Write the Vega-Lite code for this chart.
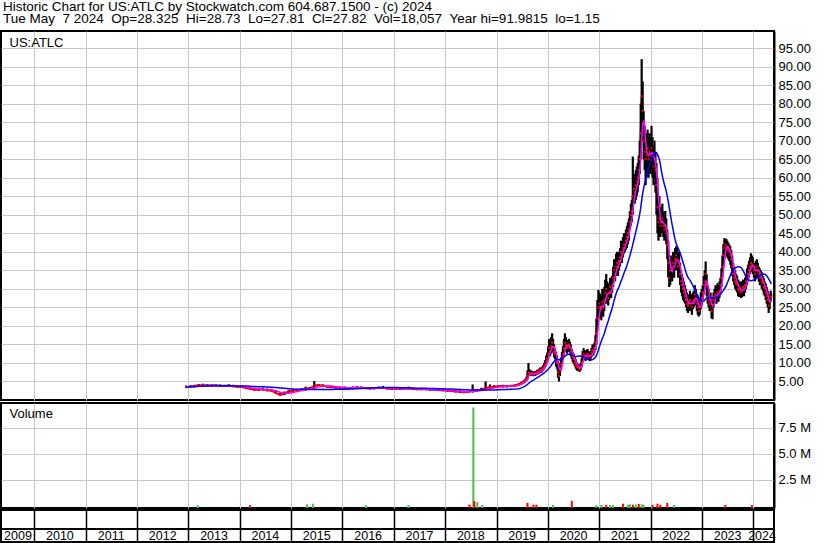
{
  "$schema": "https://vega.github.io/schema/vega-lite/v6.json",
  "background": "white",
  "padding": {"left": 0, "top": 0, "right": 0, "bottom": 0},
  "title": {
    "text": ["Historic Chart for US:ATLC by Stockwatch.com 604.687.1500 - (c) 2024", "Tue May \u00a07 2024 \u00a0Op=28.325 \u00a0Hi=28.73 \u00a0Lo=27.81 \u00a0Cl=27.82 \u00a0Vol=18,057 \u00a0Year hi=91.9815 \u00a0lo=1.15"],
    "anchor": "start", "frame": "bounds", "fontSize": 13.5, "font": "Liberation Sans", "fontWeight": "normal", "color": "black", "lineHeight": 12, "offset": -6.5, "baseline": "alphabetic", "dx": 3
  },
  "spacing": 1,
  "datasets": {
    "px": [
      {"t":"2012-12-15","h":3.9,"l":3.2,"c":3.5},{"t":"2013-01-15","h":4.0,"l":3.3,"c":3.6},{"t":"2013-02-15","h":4.1,"l":3.4,"c":3.8},{"t":"2013-03-15","h":4.3,"l":3.6,"c":4.0},{"t":"2013-04-15","h":4.4,"l":3.7,"c":4.0},{"t":"2013-05-15","h":4.3,"l":3.6,"c":3.9},{"t":"2013-06-15","h":4.2,"l":3.6,"c":3.9},{"t":"2013-07-15","h":4.3,"l":3.7,"c":4.0},{"t":"2013-08-15","h":4.2,"l":3.6,"c":3.8},{"t":"2013-09-15","h":4.1,"l":3.5,"c":3.8},{"t":"2013-10-15","h":4.2,"l":3.6,"c":3.9},{"t":"2013-11-15","h":4.1,"l":3.5,"c":3.7},{"t":"2013-12-15","h":4.0,"l":3.4,"c":3.6},
      {"t":"2014-01-15","h":3.9,"l":3.3,"c":3.5},{"t":"2014-02-15","h":3.7,"l":3.0,"c":3.2},{"t":"2014-03-15","h":3.5,"l":2.8,"c":3.0},{"t":"2014-04-15","h":3.3,"l":2.6,"c":2.8},{"t":"2014-05-15","h":3.2,"l":2.5,"c":2.8},{"t":"2014-06-15","h":3.3,"l":2.6,"c":2.9},{"t":"2014-07-15","h":3.1,"l":2.4,"c":2.6},{"t":"2014-08-15","h":3.0,"l":2.3,"c":2.5},{"t":"2014-09-15","h":2.6,"l":1.6,"c":1.9},{"t":"2014-10-15","h":2.0,"l":1.15,"c":1.4},{"t":"2014-11-15","h":2.3,"l":1.3,"c":1.8},{"t":"2014-12-15","h":2.7,"l":1.8,"c":2.3},
      {"t":"2015-01-15","h":2.9,"l":2.2,"c":2.5},{"t":"2015-02-15","h":3.0,"l":2.3,"c":2.6},{"t":"2015-03-15","h":3.2,"l":2.4,"c":2.8},{"t":"2015-04-15","h":3.6,"l":2.6,"c":3.2},{"t":"2015-05-15","h":3.5,"l":2.8,"c":3.1},{"t":"2015-06-15","h":5.1,"l":3.0,"c":3.9},{"t":"2015-07-15","h":4.3,"l":3.6,"c":4.0},{"t":"2015-08-15","h":4.2,"l":3.6,"c":3.9},{"t":"2015-09-15","h":4.0,"l":3.4,"c":3.6},{"t":"2015-10-15","h":3.8,"l":3.2,"c":3.5},{"t":"2015-11-15","h":3.7,"l":3.1,"c":3.4},{"t":"2015-12-15","h":3.6,"l":3.0,"c":3.3},
      {"t":"2016-01-15","h":3.6,"l":3.0,"c":3.3},{"t":"2016-02-15","h":3.5,"l":2.9,"c":3.2},{"t":"2016-03-15","h":3.6,"l":3.0,"c":3.3},{"t":"2016-04-15","h":3.7,"l":3.1,"c":3.4},{"t":"2016-05-15","h":3.6,"l":3.0,"c":3.3},{"t":"2016-06-15","h":3.5,"l":3.0,"c":3.2},{"t":"2016-07-15","h":3.4,"l":2.9,"c":3.1},{"t":"2016-08-15","h":3.5,"l":2.9,"c":3.2},{"t":"2016-09-15","h":3.6,"l":3.0,"c":3.3},{"t":"2016-10-15","h":3.8,"l":3.0,"c":3.3},{"t":"2016-11-15","h":3.5,"l":2.9,"c":3.1},{"t":"2016-12-15","h":3.4,"l":2.8,"c":3.0},
      {"t":"2017-01-15","h":3.4,"l":2.8,"c":3.1},{"t":"2017-02-15","h":3.3,"l":2.8,"c":3.0},{"t":"2017-03-15","h":3.4,"l":2.9,"c":3.1},{"t":"2017-04-15","h":3.6,"l":2.9,"c":3.2},{"t":"2017-05-15","h":3.3,"l":2.8,"c":3.0},{"t":"2017-06-15","h":3.2,"l":2.7,"c":2.9},{"t":"2017-07-15","h":3.3,"l":2.7,"c":2.9},{"t":"2017-08-15","h":3.2,"l":2.7,"c":2.9},{"t":"2017-09-15","h":3.2,"l":2.6,"c":2.8},{"t":"2017-10-15","h":3.1,"l":2.6,"c":2.8},{"t":"2017-11-15","h":3.1,"l":2.5,"c":2.7},{"t":"2017-12-15","h":3.0,"l":2.4,"c":2.6},
      {"t":"2018-01-15","h":2.9,"l":2.3,"c":2.5},{"t":"2018-02-15","h":2.8,"l":2.2,"c":2.4},{"t":"2018-03-15","h":2.7,"l":2.1,"c":2.3},{"t":"2018-04-15","h":2.6,"l":2.0,"c":2.2},{"t":"2018-05-15","h":2.5,"l":1.9,"c":2.1},{"t":"2018-06-15","h":2.5,"l":1.9,"c":2.2},{"t":"2018-07-15","h":4.2,"l":2.0,"c":2.6},{"t":"2018-08-15","h":3.0,"l":2.3,"c":2.6},{"t":"2018-09-15","h":3.3,"l":2.5,"c":2.8},{"t":"2018-10-15","h":5.0,"l":2.8,"c":3.2},{"t":"2018-11-15","h":4.2,"l":3.0,"c":3.5},{"t":"2018-12-15","h":4.0,"l":3.2,"c":3.6},
      {"t":"2019-01-15","h":4.0,"l":3.3,"c":3.7},{"t":"2019-02-15","h":4.1,"l":3.4,"c":3.8},{"t":"2019-03-15","h":4.0,"l":3.4,"c":3.7},{"t":"2019-04-15","h":4.1,"l":3.5,"c":3.8},{"t":"2019-05-15","h":4.3,"l":3.6,"c":4.0},
      {"t":"2019-06-07","h":4.5,"l":3.9,"c":4.2},{"t":"2019-06-14","h":4.6,"l":4.0,"c":4.3},{"t":"2019-06-21","h":4.7,"l":4.1,"c":4.4},{"t":"2019-06-28","h":4.9,"l":4.2,"c":4.5},{"t":"2019-07-05","h":5.0,"l":4.4,"c":4.7},{"t":"2019-07-12","h":5.2,"l":4.5,"c":4.8},{"t":"2019-07-19","h":5.4,"l":4.7,"c":5.0},{"t":"2019-07-26","h":5.8,"l":4.9,"c":5.3},{"t":"2019-08-02","h":6.3,"l":5.2,"c":5.6},{"t":"2019-08-09","h":8.0,"l":5.5,"c":6.5},{"t":"2019-08-16","h":10.0,"l":6.5,"c":7.5},{"t":"2019-08-23","h":8.3,"l":6.6,"c":7.2},{"t":"2019-08-30","h":7.8,"l":6.5,"c":7.0},{"t":"2019-09-06","h":8.0,"l":6.8,"c":7.3},{"t":"2019-09-13","h":7.7,"l":6.6,"c":7.1},{"t":"2019-09-20","h":7.5,"l":6.4,"c":6.9},{"t":"2019-09-27","h":7.8,"l":6.7,"c":7.2},{"t":"2019-10-04","h":7.6,"l":6.5,"c":7.0},{"t":"2019-10-11","h":7.9,"l":6.8,"c":7.3},{"t":"2019-10-18","h":8.2,"l":7.0,"c":7.6},{"t":"2019-10-25","h":8.0,"l":6.9,"c":7.4},{"t":"2019-11-01","h":8.5,"l":7.2,"c":7.8},{"t":"2019-11-08","h":8.8,"l":7.5,"c":8.1},{"t":"2019-11-15","h":8.6,"l":7.3,"c":7.9},{"t":"2019-11-22","h":9.0,"l":7.7,"c":8.3},{"t":"2019-11-29","h":9.4,"l":8.0,"c":8.6},{"t":"2019-12-06","h":10.0,"l":8.4,"c":9.0},{"t":"2019-12-13","h":10.8,"l":8.9,"c":9.6},{"t":"2019-12-20","h":12.0,"l":9.5,"c":10.4},{"t":"2019-12-27","h":12.8,"l":10.2,"c":11.2},
      {"t":"2020-01-03","h":14.5,"l":11.0,"c":12.5},{"t":"2020-01-10","h":16.5,"l":12.2,"c":14.0},{"t":"2020-01-17","h":15.5,"l":11.8,"c":13.2},{"t":"2020-01-24","h":17.0,"l":12.5,"c":14.5},{"t":"2020-01-31","h":18.0,"l":13.5,"c":15.5},{"t":"2020-02-07","h":16.5,"l":12.8,"c":14.2},{"t":"2020-02-14","h":15.0,"l":11.5,"c":13.0},{"t":"2020-02-21","h":14.0,"l":11.0,"c":12.5},{"t":"2020-02-28","h":13.0,"l":9.0,"c":10.5},{"t":"2020-03-06","h":12.0,"l":8.5,"c":10.0},{"t":"2020-03-13","h":10.5,"l":6.0,"c":7.5},{"t":"2020-03-20","h":8.5,"l":5.0,"c":6.5},{"t":"2020-03-27","h":10.0,"l":6.5,"c":8.5},{"t":"2020-04-03","h":11.5,"l":8.0,"c":9.5},{"t":"2020-04-10","h":13.0,"l":9.5,"c":11.5},{"t":"2020-04-17","h":14.5,"l":11.0,"c":12.5},{"t":"2020-04-24","h":16.5,"l":12.0,"c":14.0},{"t":"2020-05-01","h":18.0,"l":13.5,"c":15.5},{"t":"2020-05-08","h":17.0,"l":13.0,"c":14.8},{"t":"2020-05-15","h":16.0,"l":12.5,"c":14.0},{"t":"2020-05-22","h":16.2,"l":13.0,"c":14.6},{"t":"2020-05-29","h":16.5,"l":13.5,"c":15.0},{"t":"2020-06-05","h":15.8,"l":12.8,"c":14.2},{"t":"2020-06-12","h":15.0,"l":11.8,"c":13.0},{"t":"2020-06-19","h":13.8,"l":11.0,"c":12.2},{"t":"2020-06-26","h":13.0,"l":10.2,"c":11.5},{"t":"2020-07-03","h":12.5,"l":9.8,"c":11.0},{"t":"2020-07-10","h":11.8,"l":9.2,"c":10.2},{"t":"2020-07-17","h":11.0,"l":8.5,"c":9.5},{"t":"2020-07-24","h":10.2,"l":8.0,"c":9.0},{"t":"2020-07-31","h":9.8,"l":7.8,"c":8.8},{"t":"2020-08-07","h":9.6,"l":7.9,"c":8.6},{"t":"2020-08-14","h":9.3,"l":7.6,"c":8.2},{"t":"2020-08-21","h":10.0,"l":8.0,"c":9.0},{"t":"2020-08-28","h":11.2,"l":8.8,"c":10.0},{"t":"2020-09-04","h":13.2,"l":10.5,"c":11.8},{"t":"2020-09-11","h":14.0,"l":11.2,"c":12.5},{"t":"2020-09-18","h":13.5,"l":10.8,"c":12.0},{"t":"2020-09-25","h":13.0,"l":10.5,"c":11.6},{"t":"2020-10-02","h":13.5,"l":11.0,"c":12.0},{"t":"2020-10-09","h":13.8,"l":11.2,"c":12.4},{"t":"2020-10-16","h":13.2,"l":10.8,"c":11.8},{"t":"2020-10-23","h":12.8,"l":10.5,"c":11.5},{"t":"2020-10-30","h":13.2,"l":10.8,"c":12.0},{"t":"2020-11-06","h":14.0,"l":11.5,"c":12.8},{"t":"2020-11-13","h":15.0,"l":12.2,"c":13.5},{"t":"2020-11-20","h":14.5,"l":12.0,"c":13.2},{"t":"2020-11-27","h":15.5,"l":12.8,"c":14.0},{"t":"2020-12-04","h":17.5,"l":13.5,"c":15.5},{"t":"2020-12-11","h":22.0,"l":15.0,"c":18.0},{"t":"2020-12-18","h":27.0,"l":19.0,"c":22.0},{"t":"2020-12-25","h":29.7,"l":22.0,"c":25.0},
      {"t":"2021-01-01","h":29.0,"l":23.0,"c":26.0},{"t":"2021-01-08","h":28.5,"l":22.0,"c":25.0},{"t":"2021-01-15","h":28.0,"l":21.5,"c":24.5},{"t":"2021-01-22","h":30.0,"l":23.0,"c":26.5},{"t":"2021-01-29","h":28.5,"l":22.5,"c":25.0},{"t":"2021-02-05","h":30.5,"l":24.0,"c":27.0},{"t":"2021-02-12","h":32.5,"l":26.0,"c":29.0},{"t":"2021-02-19","h":34.0,"l":27.0,"c":30.0},{"t":"2021-02-26","h":32.0,"l":26.0,"c":28.5},{"t":"2021-03-05","h":30.5,"l":25.5,"c":27.5},{"t":"2021-03-12","h":31.5,"l":27.0,"c":29.0},{"t":"2021-03-19","h":33.0,"l":28.0,"c":30.5},{"t":"2021-03-26","h":32.0,"l":27.5,"c":29.5},{"t":"2021-04-02","h":33.5,"l":29.0,"c":31.0},{"t":"2021-04-09","h":36.0,"l":30.5,"c":33.0},{"t":"2021-04-16","h":38.0,"l":32.5,"c":35.0},{"t":"2021-04-23","h":37.0,"l":32.0,"c":34.0},{"t":"2021-04-30","h":39.5,"l":33.5,"c":36.0},{"t":"2021-05-07","h":40.0,"l":34.5,"c":37.0},{"t":"2021-05-14","h":39.0,"l":33.5,"c":36.0},{"t":"2021-05-21","h":40.0,"l":35.0,"c":37.5},{"t":"2021-05-28","h":41.0,"l":36.0,"c":38.5},{"t":"2021-06-04","h":43.0,"l":37.5,"c":40.0},{"t":"2021-06-11","h":42.5,"l":37.0,"c":39.5},{"t":"2021-06-18","h":44.0,"l":38.5,"c":41.0},{"t":"2021-06-25","h":45.0,"l":39.5,"c":42.0},{"t":"2021-07-02","h":45.0,"l":40.0,"c":42.0},{"t":"2021-07-09","h":46.0,"l":40.5,"c":43.0},{"t":"2021-07-16","h":47.0,"l":41.0,"c":44.0},{"t":"2021-07-23","h":48.0,"l":42.0,"c":45.0},{"t":"2021-07-30","h":49.0,"l":43.0,"c":46.0},{"t":"2021-08-06","h":51.0,"l":46.0,"c":48.0},{"t":"2021-08-13","h":53.0,"l":47.0,"c":50.0},{"t":"2021-08-20","h":54.0,"l":48.0,"c":51.0},{"t":"2021-08-27","h":65.7,"l":50.0,"c":55.0},{"t":"2021-09-03","h":61.0,"l":53.0,"c":57.0},{"t":"2021-09-10","h":60.0,"l":53.0,"c":56.0},{"t":"2021-09-17","h":62.0,"l":54.0,"c":58.0},{"t":"2021-09-24","h":63.0,"l":55.0,"c":59.0},{"t":"2021-10-01","h":64.0,"l":56.0,"c":60.0},{"t":"2021-10-08","h":66.0,"l":58.0,"c":62.0},{"t":"2021-10-15","h":70.0,"l":61.0,"c":65.0},{"t":"2021-10-22","h":80.0,"l":65.0,"c":72.0},{"t":"2021-10-29","h":92.0,"l":74.0,"c":82.0},{"t":"2021-11-05","h":86.0,"l":70.0,"c":78.0},{"t":"2021-11-12","h":78.0,"l":65.0,"c":70.0},{"t":"2021-11-19","h":74.0,"l":62.0,"c":67.0},{"t":"2021-11-26","h":71.0,"l":58.0,"c":65.0},{"t":"2021-12-03","h":72.0,"l":60.0,"c":66.0},{"t":"2021-12-10","h":73.0,"l":62.0,"c":68.0},{"t":"2021-12-17","h":71.0,"l":60.0,"c":65.0},{"t":"2021-12-24","h":72.0,"l":62.0,"c":67.0},{"t":"2021-12-31","h":71.0,"l":61.0,"c":66.0},
      {"t":"2022-01-07","h":74.0,"l":62.0,"c":68.0},{"t":"2022-01-14","h":71.0,"l":60.0,"c":66.0},{"t":"2022-01-21","h":68.0,"l":58.0,"c":63.0},{"t":"2022-01-28","h":70.0,"l":60.0,"c":65.0},{"t":"2022-02-04","h":67.0,"l":56.0,"c":62.0},{"t":"2022-02-11","h":64.0,"l":50.0,"c":58.0},{"t":"2022-02-18","h":60.0,"l":45.0,"c":52.0},{"t":"2022-02-25","h":54.0,"l":43.0,"c":48.0},{"t":"2022-03-04","h":55.0,"l":44.0,"c":49.0},{"t":"2022-03-11","h":52.0,"l":44.0,"c":47.0},{"t":"2022-03-18","h":52.0,"l":45.0,"c":48.0},{"t":"2022-03-25","h":53.0,"l":46.0,"c":49.0},{"t":"2022-04-01","h":51.0,"l":44.0,"c":47.0},{"t":"2022-04-08","h":50.0,"l":43.0,"c":46.0},{"t":"2022-04-15","h":51.0,"l":44.0,"c":47.0},{"t":"2022-04-22","h":49.0,"l":42.0,"c":45.0},{"t":"2022-04-29","h":46.0,"l":38.0,"c":42.0},{"t":"2022-05-06","h":43.0,"l":33.0,"c":37.0},{"t":"2022-05-13","h":38.0,"l":30.5,"c":33.0},{"t":"2022-05-20","h":38.0,"l":31.0,"c":35.0},{"t":"2022-05-27","h":39.0,"l":33.0,"c":36.0},{"t":"2022-06-03","h":38.0,"l":32.0,"c":35.0},{"t":"2022-06-10","h":40.0,"l":34.0,"c":37.0},{"t":"2022-06-17","h":39.0,"l":33.0,"c":36.0},{"t":"2022-06-24","h":41.0,"l":35.0,"c":38.0},{"t":"2022-07-01","h":41.5,"l":36.0,"c":39.0},{"t":"2022-07-08","h":41.0,"l":35.0,"c":38.0},{"t":"2022-07-15","h":39.0,"l":33.0,"c":36.0},{"t":"2022-07-22","h":40.0,"l":34.0,"c":37.0},{"t":"2022-07-29","h":37.0,"l":31.0,"c":34.0},{"t":"2022-08-05","h":35.0,"l":29.0,"c":32.0},{"t":"2022-08-12","h":34.0,"l":28.0,"c":31.0},{"t":"2022-08-19","h":33.0,"l":27.0,"c":30.0},{"t":"2022-08-26","h":32.0,"l":26.5,"c":29.0},{"t":"2022-09-02","h":31.0,"l":26.0,"c":28.0},{"t":"2022-09-09","h":30.0,"l":25.0,"c":27.0},{"t":"2022-09-16","h":29.0,"l":24.0,"c":26.0},{"t":"2022-09-23","h":28.0,"l":23.5,"c":25.5},{"t":"2022-09-30","h":28.5,"l":24.0,"c":26.0},{"t":"2022-10-07","h":29.5,"l":25.0,"c":27.0},{"t":"2022-10-14","h":28.5,"l":24.0,"c":26.0},{"t":"2022-10-21","h":27.5,"l":23.0,"c":25.0},{"t":"2022-10-28","h":29.0,"l":24.5,"c":26.5},{"t":"2022-11-04","h":29.5,"l":25.0,"c":27.0},{"t":"2022-11-11","h":31.0,"l":26.0,"c":28.5},{"t":"2022-11-18","h":30.0,"l":25.5,"c":27.5},{"t":"2022-11-25","h":28.5,"l":24.0,"c":26.0},{"t":"2022-12-02","h":27.5,"l":23.0,"c":25.0},{"t":"2022-12-09","h":26.5,"l":22.5,"c":24.0},{"t":"2022-12-16","h":27.0,"l":23.0,"c":25.0},{"t":"2022-12-23","h":29.0,"l":24.5,"c":26.5},{"t":"2022-12-30","h":30.0,"l":25.5,"c":27.5},
      {"t":"2023-01-06","h":31.0,"l":27.0,"c":29.0},{"t":"2023-01-13","h":33.5,"l":28.5,"c":31.0},{"t":"2023-01-20","h":35.0,"l":30.0,"c":32.0},{"t":"2023-01-27","h":37.4,"l":31.0,"c":34.0},{"t":"2023-02-03","h":34.0,"l":28.0,"c":31.0},{"t":"2023-02-10","h":31.0,"l":26.0,"c":28.0},{"t":"2023-02-17","h":30.0,"l":25.0,"c":27.0},{"t":"2023-02-24","h":28.5,"l":24.0,"c":26.0},{"t":"2023-03-03","h":29.0,"l":25.0,"c":27.0},{"t":"2023-03-10","h":27.0,"l":22.0,"c":24.0},{"t":"2023-03-17","h":27.5,"l":21.8,"c":25.0},{"t":"2023-03-24","h":29.0,"l":25.0,"c":27.0},{"t":"2023-03-31","h":30.0,"l":26.0,"c":28.0},{"t":"2023-04-07","h":31.0,"l":26.5,"c":28.5},{"t":"2023-04-14","h":30.5,"l":26.0,"c":28.0},{"t":"2023-04-21","h":31.5,"l":27.0,"c":29.0},{"t":"2023-04-28","h":31.0,"l":26.5,"c":28.5},{"t":"2023-05-05","h":32.0,"l":27.5,"c":29.5},{"t":"2023-05-12","h":33.0,"l":29.0,"c":31.0},{"t":"2023-05-19","h":35.5,"l":30.5,"c":33.0},{"t":"2023-05-26","h":39.0,"l":33.0,"c":36.0},{"t":"2023-06-02","h":42.0,"l":36.0,"c":39.0},{"t":"2023-06-09","h":43.7,"l":38.0,"c":41.0},{"t":"2023-06-16","h":43.5,"l":39.5,"c":42.0},{"t":"2023-06-23","h":43.5,"l":39.0,"c":41.5},{"t":"2023-06-30","h":43.0,"l":38.5,"c":41.0},{"t":"2023-07-07","h":42.5,"l":38.0,"c":40.5},{"t":"2023-07-14","h":42.0,"l":37.5,"c":40.0},{"t":"2023-07-21","h":41.5,"l":36.5,"c":39.0},{"t":"2023-07-28","h":40.5,"l":35.5,"c":38.0},{"t":"2023-08-04","h":39.0,"l":33.5,"c":36.0},{"t":"2023-08-11","h":37.0,"l":32.0,"c":34.0},{"t":"2023-08-18","h":36.0,"l":31.0,"c":33.0},{"t":"2023-08-25","h":35.0,"l":30.0,"c":32.0},{"t":"2023-09-01","h":34.0,"l":29.5,"c":31.5},{"t":"2023-09-08","h":33.5,"l":29.0,"c":31.0},{"t":"2023-09-15","h":32.5,"l":28.0,"c":30.0},{"t":"2023-09-22","h":32.0,"l":27.8,"c":29.5},{"t":"2023-09-29","h":32.0,"l":28.0,"c":30.0},{"t":"2023-10-06","h":31.5,"l":27.5,"c":29.0},{"t":"2023-10-13","h":32.0,"l":27.8,"c":29.5},{"t":"2023-10-20","h":32.5,"l":28.5,"c":30.5},{"t":"2023-10-27","h":32.0,"l":28.0,"c":30.0},{"t":"2023-11-03","h":33.0,"l":29.0,"c":31.0},{"t":"2023-11-10","h":34.0,"l":30.0,"c":32.0},{"t":"2023-11-17","h":35.5,"l":31.0,"c":33.0},{"t":"2023-11-24","h":36.5,"l":32.0,"c":34.0},{"t":"2023-12-01","h":37.5,"l":33.0,"c":35.0},{"t":"2023-12-08","h":38.5,"l":34.0,"c":36.0},{"t":"2023-12-15","h":39.6,"l":35.0,"c":37.0},{"t":"2023-12-22","h":39.0,"l":34.5,"c":36.5},{"t":"2023-12-29","h":38.5,"l":34.0,"c":36.0},
      {"t":"2024-01-05","h":37.0,"l":33.0,"c":35.0},{"t":"2024-01-12","h":36.5,"l":32.0,"c":34.0},{"t":"2024-01-19","h":37.5,"l":33.0,"c":35.0},{"t":"2024-01-26","h":38.0,"l":34.0,"c":36.0},{"t":"2024-02-02","h":37.0,"l":33.0,"c":35.0},{"t":"2024-02-09","h":36.0,"l":32.0,"c":34.0},{"t":"2024-02-16","h":35.5,"l":31.0,"c":33.0},{"t":"2024-02-23","h":35.0,"l":31.0,"c":33.0},{"t":"2024-03-01","h":34.5,"l":30.0,"c":32.0},{"t":"2024-03-08","h":33.5,"l":29.5,"c":31.5},{"t":"2024-03-15","h":33.0,"l":28.5,"c":30.5},{"t":"2024-03-22","h":32.0,"l":28.0,"c":30.0},{"t":"2024-03-29","h":31.5,"l":27.0,"c":29.0},{"t":"2024-04-05","h":30.5,"l":26.0,"c":28.0},{"t":"2024-04-12","h":29.5,"l":25.0,"c":27.0},{"t":"2024-04-19","h":28.0,"l":23.5,"c":25.5},{"t":"2024-04-26","h":28.5,"l":24.5,"c":26.5},{"t":"2024-05-03","h":29.5,"l":26.5,"c":28.0},{"t":"2024-05-07","h":28.73,"l":27.81,"c":27.82}
    ],
    "vol": [
      {"t":"2013-03-08","v":60000,"dir":"up"},{"t":"2014-03-14","v":60000,"dir":"down"},{"t":"2015-04-24","v":150000,"dir":"up"},{"t":"2015-06-05","v":200000,"dir":"up"},{"t":"2016-06-17","v":60000,"dir":"up"},{"t":"2017-04-14","v":60000,"dir":"up"},
      {"t":"2018-06-22","v":120000,"dir":"down"},{"t":"2018-07-20","v":9450000,"dir":"up"},{"t":"2018-07-27","v":450000,"dir":"down"},{"t":"2018-08-17","v":350000,"dir":"up"},{"t":"2018-09-21","v":80000,"dir":"up"},
      {"t":"2019-08-09","v":280000,"dir":"down"},{"t":"2019-09-20","v":100000,"dir":"down"},{"t":"2019-10-11","v":100000,"dir":"down"},{"t":"2020-02-07","v":80000,"dir":"up"},{"t":"2020-06-19","v":480000,"dir":"down"},{"t":"2020-12-11","v":80000,"dir":"up"},
      {"t":"2021-01-15","v":80000,"dir":"up"},{"t":"2021-02-19","v":90000,"dir":"down"},{"t":"2021-03-19","v":70000,"dir":"up"},{"t":"2021-04-09","v":80000,"dir":"up"},{"t":"2021-06-18","v":200000,"dir":"down"},{"t":"2021-07-23","v":90000,"dir":"up"},{"t":"2021-08-06","v":150000,"dir":"up"},{"t":"2021-08-27","v":100000,"dir":"down"},{"t":"2021-09-17","v":120000,"dir":"up"},{"t":"2021-10-08","v":180000,"dir":"down"},{"t":"2021-10-29","v":160000,"dir":"up"},{"t":"2021-11-12","v":90000,"dir":"up"},
      {"t":"2022-01-14","v":90000,"dir":"down"},{"t":"2022-02-18","v":200000,"dir":"down"},{"t":"2022-03-11","v":90000,"dir":"down"},{"t":"2022-04-29","v":280000,"dir":"down"},{"t":"2022-06-17","v":80000,"dir":"up"},{"t":"2023-06-16","v":70000,"dir":"down"},{"t":"2023-12-22","v":70000,"dir":"down"}
    ],
    "yrs": [
      {"t":"2009-09-07","yr":"2009"},{"t":"2010-07-02","yr":"2010"},{"t":"2011-07-02","yr":"2011"},{"t":"2012-07-02","yr":"2012"},{"t":"2013-07-02","yr":"2013"},{"t":"2014-07-02","yr":"2014"},{"t":"2015-07-02","yr":"2015"},{"t":"2016-07-02","yr":"2016"},{"t":"2017-07-02","yr":"2017"},{"t":"2018-07-02","yr":"2018"},{"t":"2019-07-02","yr":"2019"},{"t":"2020-07-02","yr":"2020"},{"t":"2021-07-02","yr":"2021"},{"t":"2022-07-02","yr":"2022"},{"t":"2023-07-02","yr":"2023"},{"t":"2024-03-03","yr":"2024"}
    ]
  },
  "vconcat": [
    {
      "width": 773, "height": 369,
      "data": {"name": "px"},
      "transform": [
        {"window": [{"op": "mean", "field": "c", "as": "m1"}], "frame": [-3, 0], "sort": [{"field": "t"}]},
        {"window": [{"op": "mean", "field": "c", "as": "m2"}], "frame": [-19, 0], "sort": [{"field": "t"}]}
      ],
      "encoding": {
        "x": {"field": "t", "type": "temporal",
          "scale": {"type": "utc", "domain": [{"year": 2009, "month": 5, "date": 9, "utc": true}, {"year": 2024, "month": 5, "date": 27, "utc": true}]},
          "axis": {"orient": "top", "values": [{"year":2010,"month":1,"date":1,"utc":true},{"year":2011,"month":1,"date":1,"utc":true},{"year":2012,"month":1,"date":1,"utc":true},{"year":2013,"month":1,"date":1,"utc":true},{"year":2014,"month":1,"date":1,"utc":true},{"year":2015,"month":1,"date":1,"utc":true},{"year":2016,"month":1,"date":1,"utc":true},{"year":2017,"month":1,"date":1,"utc":true},{"year":2018,"month":1,"date":1,"utc":true},{"year":2019,"month":1,"date":1,"utc":true},{"year":2020,"month":1,"date":1,"utc":true},{"year":2021,"month":1,"date":1,"utc":true},{"year":2022,"month":1,"date":1,"utc":true},{"year":2023,"month":1,"date":1,"utc":true},{"year":2024,"month":1,"date":1,"utc":true}],
            "grid": true, "labels": false, "ticks": false, "domain": false,
            "title": "US:ATLC", "titleX": 8, "titleY": 15.5, "titleAnchor": "start", "titleAlign": "left", "titleBaseline": "alphabetic", "titleAngle": 0}
        },
        "y": {"field": "c", "type": "quantitative", "scale": {"domain": [0, 99.6]},
          "axis": {"orient": "right", "values": [5,10,15,20,25,30,35,40,45,50,55,60,65,70,75,80,85,90,95], "format": ".2f", "grid": true, "ticks": false, "domain": true, "domainColor": "black", "domainWidth": 2, "labelPadding": 4, "labelBaseline": "middle", "title": null}}
      },
      "layer": [
        {"mark": {"type": "line", "color": "#ff0000", "strokeWidth": 2}},
        {"mark": {"type": "rule", "color": "black", "strokeWidth": 2.2},
         "encoding": {"y": {"field": "l", "type": "quantitative"}, "y2": {"field": "h"}}},
        {"mark": {"type": "square", "color": "#ff0000", "size": 4, "opacity": 1}},
        {"mark": {"type": "line", "color": "#ff00ff", "strokeWidth": 1.5},
         "encoding": {"y": {"field": "m1", "type": "quantitative"}}},
        {"mark": {"type": "line", "color": "#0000ff", "strokeWidth": 1.5},
         "encoding": {"y": {"field": "m2", "type": "quantitative"}}}
      ]
    },
    {
      "spacing": -1,
      "vconcat": [
        {
          "width": 773, "height": 105,
          "data": {"name": "vol"},
          "mark": {"type": "rule", "strokeWidth": 2},
          "encoding": {
            "x": {"field": "t", "type": "temporal",
              "scale": {"type": "utc", "domain": [{"year": 2009, "month": 5, "date": 9, "utc": true}, {"year": 2024, "month": 5, "date": 27, "utc": true}]},
              "axis": {"orient": "top", "values": [{"year":2010,"month":1,"date":1,"utc":true},{"year":2011,"month":1,"date":1,"utc":true},{"year":2012,"month":1,"date":1,"utc":true},{"year":2013,"month":1,"date":1,"utc":true},{"year":2014,"month":1,"date":1,"utc":true},{"year":2015,"month":1,"date":1,"utc":true},{"year":2016,"month":1,"date":1,"utc":true},{"year":2017,"month":1,"date":1,"utc":true},{"year":2018,"month":1,"date":1,"utc":true},{"year":2019,"month":1,"date":1,"utc":true},{"year":2020,"month":1,"date":1,"utc":true},{"year":2021,"month":1,"date":1,"utc":true},{"year":2022,"month":1,"date":1,"utc":true},{"year":2023,"month":1,"date":1,"utc":true},{"year":2024,"month":1,"date":1,"utc":true}],
                "grid": true, "labels": false, "ticks": false, "domain": false,
                "title": "Volume", "titleX": 8, "titleY": 14, "titleAnchor": "start", "titleAlign": "left", "titleBaseline": "alphabetic", "titleAngle": 0}
            },
            "y": {"field": "v", "type": "quantitative", "scale": {"domain": [-210000, 9885000]},
              "axis": {"orient": "right", "values": [2500000, 5000000, 7500000], "labelExpr": "format(datum.value / 1000000, '.1f') + ' M'", "grid": true, "ticks": false, "domain": true, "domainColor": "black", "domainWidth": 2, "labelPadding": 4, "labelBaseline": "middle", "title": null}},
            "y2": {"datum": -210000},
            "color": {"field": "dir", "type": "nominal", "scale": {"domain": ["up", "down"], "range": ["#4cbb4c", "#ff0000"]}, "legend": null}
          }
        },
        {
          "width": 773, "height": 32,
          "data": {"name": "yrs"},
          "mark": {"type": "text", "fontSize": 12.5, "font": "Liberation Sans", "color": "black", "baseline": "middle", "dy": 9.5},
          "encoding": {
            "x": {"field": "t", "type": "temporal",
              "scale": {"type": "utc", "domain": [{"year": 2009, "month": 5, "date": 9, "utc": true}, {"year": 2024, "month": 5, "date": 27, "utc": true}]},
              "axis": {"orient": "top", "offset": -18.5, "values": [{"year":2010,"month":1,"date":1,"utc":true},{"year":2011,"month":1,"date":1,"utc":true},{"year":2012,"month":1,"date":1,"utc":true},{"year":2013,"month":1,"date":1,"utc":true},{"year":2014,"month":1,"date":1,"utc":true},{"year":2015,"month":1,"date":1,"utc":true},{"year":2016,"month":1,"date":1,"utc":true},{"year":2017,"month":1,"date":1,"utc":true},{"year":2018,"month":1,"date":1,"utc":true},{"year":2019,"month":1,"date":1,"utc":true},{"year":2020,"month":1,"date":1,"utc":true},{"year":2021,"month":1,"date":1,"utc":true},{"year":2022,"month":1,"date":1,"utc":true},{"year":2023,"month":1,"date":1,"utc":true},{"year":2024,"month":1,"date":1,"utc":true}],
                "grid": true, "gridColor": "black", "gridWidth": 1.5, "labels": false, "ticks": false, "domain": true, "domainColor": "black", "domainWidth": 2, "title": null}
            },
            "text": {"field": "yr"}
          }
        }
      ]
    }
  ],
  "config": {
    "view": {"stroke": "black", "strokeWidth": 2},
    "axis": {"labelFont": "Liberation Sans", "labelFontSize": 13, "labelColor": "black", "gridColor": "#c8c8c8", "gridOpacity": 1, "gridWidth": 1, "titleFont": "Liberation Sans", "titleFontSize": 13, "titleFontWeight": "normal", "titleColor": "black"},
    "title": {"font": "Liberation Sans"}
  }
}
